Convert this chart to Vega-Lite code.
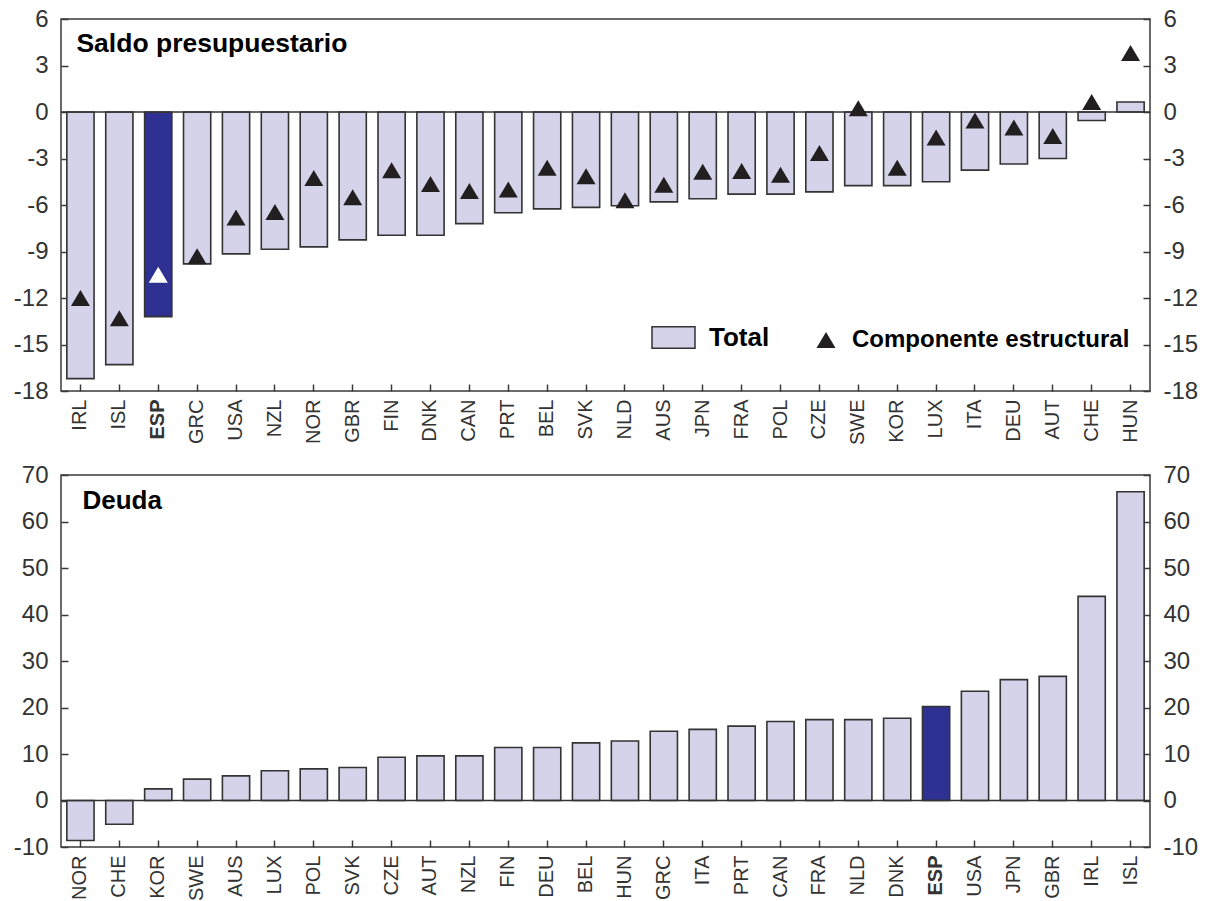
{
  "$schema": "https://vega.github.io/schema/vega-lite/v6.json",
  "background": "white",
  "padding": {"left": 12, "top": 6, "right": 8, "bottom": 4},
  "spacing": 16,
  "config": {
    "font": "Liberation Sans",
    "view": {"stroke": "#3a3a3a", "strokeWidth": 1.5},
    "axis": {"grid": false, "domain": false, "title": null, "labelFont": "Liberation Sans", "labelColor": "#333333", "tickColor": "#3a3a3a", "tickWidth": 1.5, "tickSize": -7},
    "axisY": {"labelFontSize": 24, "labelPadding": 20, "labelExpr": "'' + datum.value"},
    "axisX": {"labelFontSize": 20, "labelAngle": -90, "labelPadding": 15},
    "legend": {"title": null, "labelFont": "Liberation Sans", "labelColor": "#000000", "labelFontWeight": "bold", "labelLimit": 500}
  },
  "datasets": {
    "saldo": [
      {"pais": "IRL", "total": -17.2, "estructural": -12.0},
      {"pais": "ISL", "total": -16.3, "estructural": -13.3},
      {"pais": "ESP", "total": -13.2, "estructural": -10.5},
      {"pais": "GRC", "total": -9.8, "estructural": -9.3},
      {"pais": "USA", "total": -9.15, "estructural": -6.8},
      {"pais": "NZL", "total": -8.85, "estructural": -6.45},
      {"pais": "NOR", "total": -8.7, "estructural": -4.25},
      {"pais": "GBR", "total": -8.25, "estructural": -5.5},
      {"pais": "FIN", "total": -7.95, "estructural": -3.75},
      {"pais": "DNK", "total": -7.95, "estructural": -4.65},
      {"pais": "CAN", "total": -7.2, "estructural": -5.1},
      {"pais": "PRT", "total": -6.5, "estructural": -5.0},
      {"pais": "BEL", "total": -6.25, "estructural": -3.6},
      {"pais": "SVK", "total": -6.15, "estructural": -4.15},
      {"pais": "NLD", "total": -6.05, "estructural": -5.7},
      {"pais": "AUS", "total": -5.8, "estructural": -4.7},
      {"pais": "JPN", "total": -5.6, "estructural": -3.85},
      {"pais": "FRA", "total": -5.3, "estructural": -3.8},
      {"pais": "POL", "total": -5.3, "estructural": -4.05},
      {"pais": "CZE", "total": -5.15, "estructural": -2.65},
      {"pais": "SWE", "total": -4.75, "estructural": 0.25},
      {"pais": "KOR", "total": -4.75, "estructural": -3.6},
      {"pais": "LUX", "total": -4.5, "estructural": -1.65},
      {"pais": "ITA", "total": -3.75, "estructural": -0.55},
      {"pais": "DEU", "total": -3.35, "estructural": -1.0},
      {"pais": "AUT", "total": -3.0, "estructural": -1.55},
      {"pais": "CHE", "total": -0.55, "estructural": 0.65},
      {"pais": "HUN", "total": 0.65, "estructural": 3.8}
    ],
    "deuda": [
      {"pais": "NOR", "deuda": -8.6},
      {"pais": "CHE", "deuda": -5.1},
      {"pais": "KOR", "deuda": 2.5},
      {"pais": "SWE", "deuda": 4.6},
      {"pais": "AUS", "deuda": 5.3},
      {"pais": "LUX", "deuda": 6.4},
      {"pais": "POL", "deuda": 6.8},
      {"pais": "SVK", "deuda": 7.1},
      {"pais": "CZE", "deuda": 9.3},
      {"pais": "AUT", "deuda": 9.6},
      {"pais": "NZL", "deuda": 9.6},
      {"pais": "FIN", "deuda": 11.4},
      {"pais": "DEU", "deuda": 11.4},
      {"pais": "BEL", "deuda": 12.4},
      {"pais": "HUN", "deuda": 12.8},
      {"pais": "GRC", "deuda": 14.9},
      {"pais": "ITA", "deuda": 15.3},
      {"pais": "PRT", "deuda": 16.0},
      {"pais": "CAN", "deuda": 17.0},
      {"pais": "FRA", "deuda": 17.4},
      {"pais": "NLD", "deuda": 17.4},
      {"pais": "DNK", "deuda": 17.7},
      {"pais": "ESP", "deuda": 20.2},
      {"pais": "USA", "deuda": 23.5},
      {"pais": "JPN", "deuda": 26.0},
      {"pais": "GBR", "deuda": 26.7},
      {"pais": "IRL", "deuda": 43.9},
      {"pais": "ISL", "deuda": 66.4}
    ]
  },
  "vconcat": [
    {
      "width": 1089,
      "height": 372,
      "data": {"name": "saldo"},
      "layer": [
        {
          "mark": {"type": "bar", "stroke": "#333333", "strokeWidth": 1.6},
          "encoding": {
            "x": {"field": "pais", "type": "nominal", "sort": null, "scale": {"paddingInner": 0.3, "paddingOuter": 0.15},
                  "axis": {"labelFontWeight": {"condition": {"test": "datum.value === 'ESP'", "value": "bold"}, "value": "normal"}}},
            "y": {"field": "total", "type": "quantitative", "scale": {"domain": [-18, 6], "nice": false, "zero": false},
                  "axis": {"values": [-18, -15, -12, -9, -6, -3, 0, 3, 6]}},
            "fill": {"condition": {"test": "datum.pais === 'ESP'", "value": "#2e3192"}, "datum": "Total", "scale": {"range": ["#d4d3ea"]},
                     "legend": {"orient": "none", "legendX": 590, "legendY": 296, "symbolType": "M-1,-0.5H1V0.5H-1Z", "symbolSize": 1849, "symbolStrokeColor": "#333333", "symbolStrokeWidth": 1.5, "symbolFillColor": "#d4d3ea", "labelFontSize": 26, "labelOffset": 13}}
          }
        },
        {
          "data": {"values": [{}]},
          "mark": {"type": "rule", "color": "#333333", "strokeWidth": 1.6},
          "encoding": {"y": {"datum": 0, "type": "quantitative", "scale": {"domain": [-18, 6], "nice": false}, "axis": null}}
        },
        {
          "mark": {"type": "point", "filled": true, "size": 400, "opacity": 1, "strokeWidth": 0},
          "encoding": {
            "x": {"field": "pais", "type": "nominal", "sort": null},
            "y": {"field": "estructural", "type": "quantitative", "scale": {"domain": [-18, 6], "nice": false, "zero": false},
                  "axis": {"orient": "right", "values": [-18, -15, -12, -9, -6, -3, 0, 3, 6]}},
            "shape": {"datum": "Componente estructural", "scale": {"range": ["M0,-0.8L0.95,0.8L-0.95,0.8Z"]},
                      "legend": {"orient": "none", "legendX": 753, "legendY": 309, "symbolSize": 400, "symbolFillColor": "#231f20", "symbolStrokeWidth": 0, "labelFontSize": 24, "labelOffset": 14}},
            "fill": {"condition": {"test": "datum.pais === 'ESP'", "value": "#ffffff"}, "value": "#231f20"}
          }
        },
        {
          "data": {"values": [{}]},
          "mark": {"type": "text", "text": "Saldo presupuestario", "align": "left", "baseline": "alphabetic", "font": "Liberation Sans", "fontSize": 26.5, "fontWeight": "bold", "color": "#000000", "dx": -4, "dy": 33},
          "encoding": {
            "x": {"datum": "IRL", "type": "nominal"},
            "y": {"datum": 6, "type": "quantitative", "scale": {"domain": [-18, 6], "nice": false}, "axis": null}
          }
        }
      ],
      "resolve": {"scale": {"y": "independent"}}
    },
    {
      "width": 1089,
      "height": 372,
      "data": {"name": "deuda"},
      "layer": [
        {
          "mark": {"type": "bar", "stroke": "#333333", "strokeWidth": 1.6},
          "encoding": {
            "x": {"field": "pais", "type": "nominal", "sort": null, "scale": {"paddingInner": 0.3, "paddingOuter": 0.15},
                  "axis": {"labelFontWeight": {"condition": {"test": "datum.value === 'ESP'", "value": "bold"}, "value": "normal"}}},
            "y": {"field": "deuda", "type": "quantitative", "scale": {"domain": [-10, 70], "nice": false, "zero": false},
                  "axis": {"values": [-10, 0, 10, 20, 30, 40, 50, 60, 70]}},
            "fill": {"condition": {"test": "datum.pais === 'ESP'", "value": "#2e3192"}, "value": "#d4d3ea"}
          }
        },
        {
          "data": {"values": [{}]},
          "mark": {"type": "rule", "color": "#333333", "strokeWidth": 1.6},
          "encoding": {"y": {"datum": 0, "type": "quantitative", "scale": {"domain": [-10, 70], "nice": false},
                             "axis": {"orient": "right", "values": [-10, 0, 10, 20, 30, 40, 50, 60, 70]}}}
        },
        {
          "data": {"values": [{}]},
          "mark": {"type": "text", "text": "Deuda", "align": "left", "baseline": "alphabetic", "font": "Liberation Sans", "fontSize": 26, "fontWeight": "bold", "color": "#000000", "dx": 2, "dy": 34},
          "encoding": {
            "x": {"datum": "NOR", "type": "nominal"},
            "y": {"datum": 70, "type": "quantitative", "scale": {"domain": [-10, 70], "nice": false}, "axis": null}
          }
        }
      ],
      "resolve": {"scale": {"y": "independent"}}
    }
  ]
}
